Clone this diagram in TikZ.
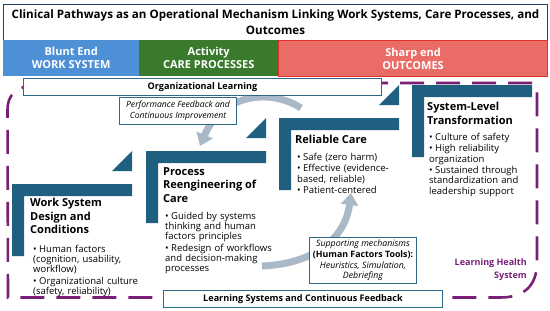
\documentclass[tikz,border=0pt]{standalone}
\usepackage{fontspec}
\setmainfont{Open Sans}
\usetikzlibrary{positioning, arrows.meta}
\definecolor{stepblue}{HTML}{1F5F7F}
\definecolor{boxline}{HTML}{2E6A85}
\definecolor{titleline}{HTML}{23406E}
\definecolor{bluntblue}{HTML}{4D90D6}
\definecolor{actgreen}{HTML}{3A7A2C}
\definecolor{sharpred}{HTML}{E96C67}
\definecolor{sharpedge}{HTML}{E0302A}
\definecolor{loopgrey}{HTML}{A9B9C8}
\definecolor{lhspurple}{HTML}{7A1F78}
\tikzset{band/.style={text=white, font=\bfseries\fontsize{11}{13.2}\selectfont, align=center, minimum height=36, inner sep=0pt, anchor=north west},
framebox/.style={draw=boxline, fill=white, line width=1pt, inner sep=0pt, align=center},
steptitle/.style={anchor=north west, inner sep=0pt, align=left, font=\bfseries\fontsize{11}{13.5}\selectfont},
steplist/.style={anchor=north west, inner sep=0pt, align=left, text width=112pt, font=\fontsize{9.5}{10.3}\selectfont},
loop/.style={loopgrey, line width=7pt, -{Triangle[length=12pt, width=17pt]}},
health/.style={lhspurple, line width=2.6pt, dash pattern=on 24pt off 12pt}}
% step shape: top left corner of the bar
\newcommand{\stepbar}[2]{\fill[stepblue] (#1,#2) -- ++(120,0) -- ++(0,12) -- ++(-108,0) -- ++(0,60) -- ++(-12,0) -- cycle;}
% small triangle: bottom right corner
\newcommand{\stepup}[2]{\fill[stepblue] (#1,#2) -- ++(-20,0) -- ++(20,-20) -- cycle;}
\newcommand{\li}{\par\vspace{1.2pt}\hangindent=6pt\hangafter=1\noindent\makebox[6pt][l]{\textbullet}}

\begin{document}
\begin{tikzpicture}[x=1pt, y=-1pt]
  \useasboundingbox (0,0) rectangle (550,311);
  % Learning health system frame
  \draw[health] (40,83) [rounded corners=5pt] -- (537,83) [sharp corners] -- (537,262)
    .. controls (537,286) and (524,297.5) .. (500,297.5) -- (8,297.5) -- (7.5,110) .. controls (7.5,95) and (15,87) .. (40,83);
  % feedback loops
  \coordinate (fbstart) at (301,108);
  \coordinate (fbend) at (200,146);
  \draw[loop] (fbstart) .. controls (270,88) and (222,94) .. (fbend);
  \coordinate (smstart) at (262,266);
  \coordinate (smend) at (351,193);
  \draw[loop] (smstart) .. controls (312,264) and (345,240) .. (smend);
  % Title and bands
  \node[draw=titleline, line width=1pt, minimum width=544, minimum height=36, inner sep=0pt, anchor=north west, align=center,
    font=\bfseries\fontsize{11.6}{16}\selectfont] (title) at (3,4)
    {Clinical Pathways as an Operational Mechanism Linking Work Systems, Care Processes, and\\ Outcomes};
  \node[band, fill=bluntblue, minimum width=136] (blunt) at (3,40) {Blunt End\\WORK SYSTEM};
  \node[band, fill=actgreen, minimum width=139] (activity) at (139,40) {Activity\\CARE PROCESSES};
  \node[band, fill=sharpred, draw=sharpedge, line width=0.8pt, minimum width=268.5, minimum height=35.5] (sharp) at (278.4,40.4) {Sharp end\\OUTCOMES};
  % Steps
  \stepbar{12}{184}
  \stepbar{146}{151}
  \stepbar{279}{118}
  \stepbar{412}{85}
  \stepup{132}{171}
  \stepup{266}{138}
  \stepup{399}{105}
  \node[steptitle] (wstitle) at (30,198) {Work System\\Design and\\Conditions};
  \node[steplist] (wslist) at (33,240.5) {\li Human factors\\(cognition, usability,\\workflow)
    \li Organizational culture\\(safety, reliability)};
  \node[steptitle] (prtitle) at (163,167) {Process\\Reengineering of\\Care};
  \node[steplist] (prlist) at (165,207.5) {\li Guided by systems\\thinking and human\\factors principles
    \li Redesign of workflows\\and decision-making\\processes};
  \node[steptitle] (rctitle) at (295,135) {Reliable Care};
  \node[steplist] (rclist) at (297,148.5) {\li Safe (zero harm)
    \li Effective (evidence-\\based, reliable)
    \li Patient-centered};
  \node[steptitle] (sltitle) at (427,102) {System-Level\\Transformation};
  \node[steplist] (sllist) at (429,128.5) {\li Culture of safety
    \li High reliability\\organization
    \li Sustained through\\standardization and\\leadership support};
  % Boxes
  \node[framebox, minimum width=358, minimum height=17, anchor=north west, font=\bfseries\fontsize{9.1}{10}\selectfont] (orglearn) at (23,78) {Organizational Learning};
  \node[framebox, minimum width=117, minimum height=27, anchor=north west, font=\itshape\fontsize{8.6}{11}\selectfont] (perf) at (119,97)
    {Performance Feedback and\\Continuous Improvement};
  \node[framebox, minimum width=107, minimum height=46, anchor=north west, font=\fontsize{8.8}{10.8}\selectfont] (support) at (309,237)
    {\itshape Supporting mechanisms\\\bfseries(Human Factors Tools):\\\itshape Heuristics, Simulation,\\\itshape Debriefing};
  \node[framebox, minimum width=279, minimum height=17, anchor=north west, font=\bfseries\fontsize{9.1}{10}\selectfont] (learnsys) at (163,290) {Learning Systems and Continuous Feedback};
  \node[anchor=north east, align=right, inner sep=0pt, text=lhspurple, font=\bfseries\fontsize{9}{13}\selectfont] (lhs) at (527,258.5) {Learning Health\\System};
\end{tikzpicture}
\end{document}
